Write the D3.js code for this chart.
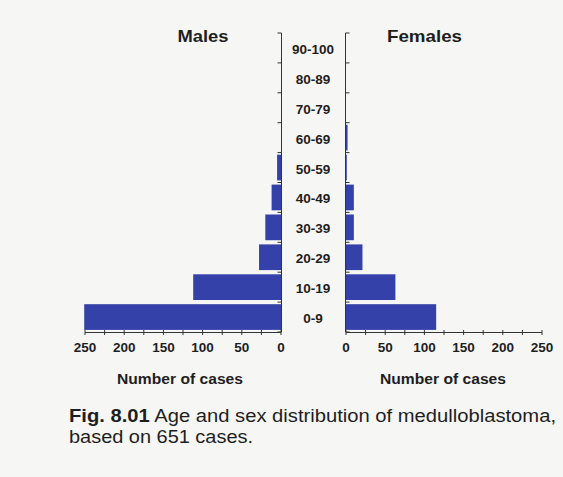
<!DOCTYPE html>
<html><head><meta charset="utf-8">
<script src="https://cdn.jsdelivr.net/npm/d3@7"></script>
<style>
html,body{margin:0;padding:0;background:#f6f6f5;}
svg{display:block;font-family:"Liberation Sans",Arial,sans-serif;}
</style></head>
<body>
<svg id="c" width="563" height="477"></svg>
<script>
const ageGroups = ["0-9","10-19","20-29","30-39","40-49","50-59","60-69","70-79","80-89","90-100"];
const males   = [251,112,28,20,12,5,0,0,0,0];
const females = [115,63,21,10,10,1,2,0,0,0];
const xTicks = [0,50,100,150,200,250];
const minorTicks = d3.range(0,251,25);

const svg = d3.select("#c");
const barColor = "#3441a9";
const axisColor = "#333";
const txt = "#1e1e1e";

const yTop = 33, yBottom = 332;
const y = d3.scaleBand().domain(ageGroups.slice().reverse()).range([yTop,yBottom]).paddingInner(0.14).paddingOuter(0.07);
const yLines = d3.scaleLinear().domain([0,ageGroups.length]).range([yBottom,yTop]);

const xm = d3.scaleLinear().domain([0,250]).range([281,85]);
const xf = d3.scaleLinear().domain([0,250]).range([346,542]);

// bars
svg.append("g").selectAll("rect").data(ageGroups).join("rect")
  .attr("x",(d,i)=>xm(males[i])).attr("y",d=>y(d))
  .attr("width",(d,i)=>xm(0)-xm(males[i])).attr("height",y.bandwidth())
  .attr("fill",barColor);
svg.append("g").selectAll("rect").data(ageGroups).join("rect")
  .attr("x",xf(0)).attr("y",d=>y(d))
  .attr("width",(d,i)=>xf(females[i])-xf(0)).attr("height",y.bandwidth())
  .attr("fill",barColor);

// vertical axes
const bounds = d3.range(0,ageGroups.length+1);
function vAxis(x0, dir){
  const g = svg.append("g").attr("stroke",axisColor).attr("stroke-width",1);
  g.append("line").attr("x1",x0).attr("x2",x0).attr("y1",yTop).attr("y2",yBottom);
  g.selectAll("line.t").data(bounds).join("line").attr("class","t")
    .attr("x1",x0).attr("x2",x0+dir*4).attr("y1",d=>yLines(d)).attr("y2",d=>yLines(d));
}
vAxis(281.5,-1);
vAxis(345.5,1);

// horizontal axes
function hAxis(sc){
  const g = svg.append("g").attr("stroke",axisColor).attr("stroke-width",1);
  g.append("line").attr("x1",sc(0)).attr("x2",sc(250)).attr("y1",yBottom+0.5).attr("y2",yBottom+0.5);
  g.selectAll("line.t").data(minorTicks).join("line").attr("class","t")
    .attr("x1",d=>sc(d)).attr("x2",d=>sc(d)).attr("y1",yBottom-2).attr("y2",yBottom+3);
  svg.append("g").selectAll("text").data(xTicks).join("text")
    .attr("x",d=>sc(d)).attr("y",yBottom+20).attr("text-anchor","middle")
    .attr("font-size",13.5).attr("font-weight","bold").attr("fill",txt).text(d=>d);
}
hAxis(xm); hAxis(xf);

// age labels
svg.append("g").selectAll("text").data(ageGroups).join("text")
  .attr("x",313).attr("y",d=>y(d)+y.bandwidth()/2+6).attr("text-anchor","middle")
  .attr("font-size",13.5).attr("font-weight","bold").attr("fill",txt).text(d=>d);

// titles
svg.append("text").attr("x",203).attr("y",42).attr("text-anchor","middle")
  .attr("font-size",17).attr("font-weight","bold").attr("fill",txt)
  .attr("textLength",51).attr("lengthAdjust","spacingAndGlyphs").text("Males");
svg.append("text").attr("x",424.5).attr("y",42).attr("text-anchor","middle")
  .attr("font-size",17).attr("font-weight","bold").attr("fill",txt)
  .attr("textLength",75).attr("lengthAdjust","spacingAndGlyphs").text("Females");

svg.append("text").attr("x",180).attr("y",384).attr("text-anchor","middle")
  .attr("font-size",14.5).attr("font-weight","bold").attr("fill",txt)
  .attr("textLength",126).attr("lengthAdjust","spacingAndGlyphs").text("Number of cases");
svg.append("text").attr("x",443).attr("y",384).attr("text-anchor","middle")
  .attr("font-size",14.5).attr("font-weight","bold").attr("fill",txt)
  .attr("textLength",126).attr("lengthAdjust","spacingAndGlyphs").text("Number of cases");

// caption
const cap = svg.append("text").attr("x",69).attr("y",421.5).attr("font-size",17.5).attr("fill",txt)
  .attr("textLength",487).attr("lengthAdjust","spacingAndGlyphs");
cap.append("tspan").attr("font-weight","bold").text("Fig. 8.01");
cap.append("tspan").text(" Age and sex distribution of medulloblastoma,");
svg.append("text").attr("x",69).attr("y",442.5).attr("font-size",17.5).attr("fill",txt)
  .attr("textLength",184).attr("lengthAdjust","spacingAndGlyphs").text("based on 651 cases.");
</script>
</body></html>
